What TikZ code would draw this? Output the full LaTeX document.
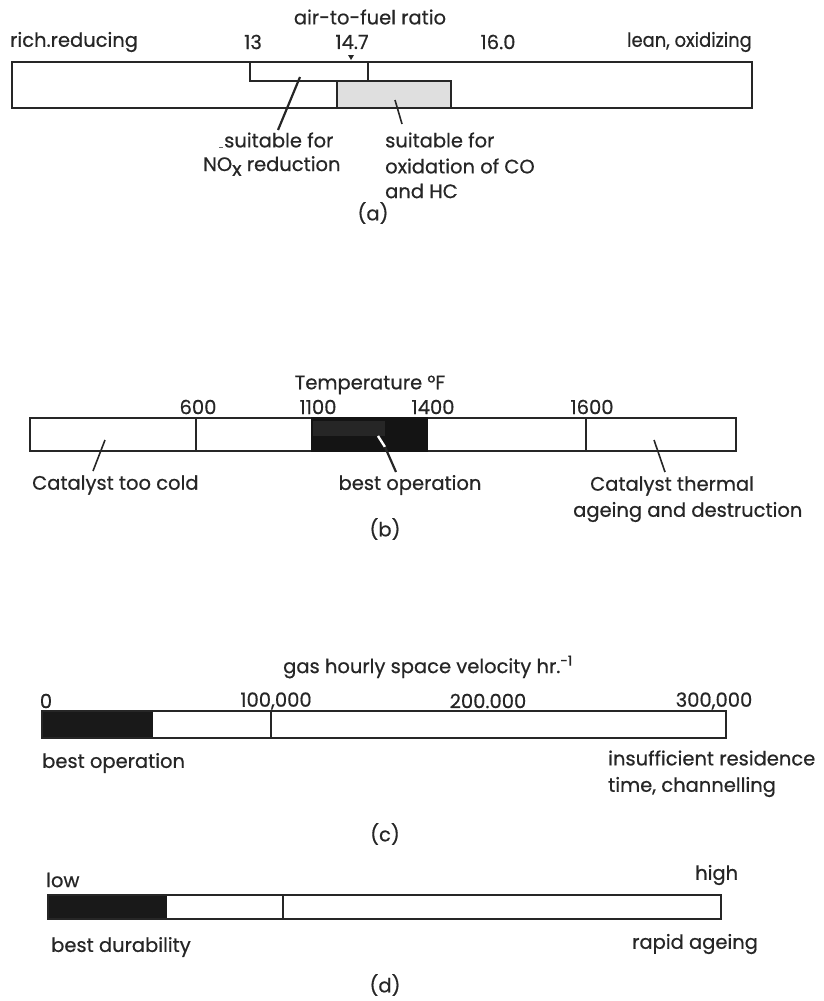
\documentclass[tikz,border=0pt]{standalone}
\usepackage{fontspec}
\setmainfont{Poppins}[FakeBold=0.6]
\begin{document}
\begin{tikzpicture}[x=1pt,y=-1pt,
  bar/.style={draw=black!85,line width=1.6pt},
  tick/.style={draw=black!85,line width=1.4pt},
  leader/.style={draw=black!85,line width=2.2pt},
  lbl/.style={inner sep=0pt,font=\fontsize{19.5}{23}\selectfont,text=black!85},
  lbll/.style={lbl,anchor=west},
  lblr/.style={lbl,anchor=east}]
\useasboundingbox (0,0) rectangle (824,1001);
% ---------- (a) ----------
\node[lbl] (aT) at (370,17) {air-to-fuel ratio};
\node[lbll] (aL) at (10,42) {rich.reducing};
\node[lbl] (a13) at (253,42) {13};
\node[lbl] (a147) at (352,42) {14.7};
\node[lbl] (a160) at (498,42) {16.0};
\node[lblr,xscale=0.92] (aR) at (752,42) {lean, oxidizing};
\draw[bar] (12,62) rectangle (752,108);
\draw[bar,fill=gray!25] (337,81) rectangle (451,108);
\draw[tick] (250,62) -- (250,81) -- (452,81);
\draw[tick] (368,62) -- (368,81);
\fill[black!85] (348,55) -- (354,55) -- (351,60) -- cycle;
\coordinate (a1s) at (300,77);
\coordinate (a2s) at (395,100);
\node[lbll] (aN1) at (224,140) {suitable for};
\node[lbll] (aN2) at (203,166) {NO\raisebox{-0.45ex}{x} reduction};
\draw[line width=1pt,black!60] (219,147) -- (223,147);
\node[lbll] (aO1) at (385,140) {suitable for};
\node[lbll] (aO2) at (385,166) {oxidation of CO};
\node[lbll] (aO3) at (385,191) {and HC};
\coordinate (a1e) at (278,130);
\coordinate (a2e) at (402,124);
\draw[leader] (a1s) -- (a1e);
\draw[leader,line width=1.6pt] (a2s) -- (a2e);
\node[lbl] (aCap) at (373,213) {(a)};
% ---------- (b) ----------
\node[lbl] (bT) at (370,385) {Temperature °F};
\node[lbl] (b600) at (198,407) {600};
\node[lbl] (b1100) at (318,407) {1100};
\node[lbl] (b1400) at (433,407) {1400};
\node[lbl] (b1600) at (592,407) {1600};
\fill[black!92] (311,417) rectangle (428,452);
\fill[black!85] (313,421) rectangle (385,436);
\draw[bar] (311,418) -- (30,418) -- (30,451) -- (311,451);
\draw[bar] (428,418) -- (736,418) -- (736,451) -- (428,451);
\draw[tick] (196,418) -- (196,451);
\draw[tick] (586,418) -- (586,451);
\coordinate (b1s) at (105,440);
\coordinate (b2s) at (378,436);
\coordinate (b2m) at (385,447);
\coordinate (b3s) at (654,440);
\node[lbll] (bC) at (32,485) {Catalyst too cold};
\node[lbl] (bB) at (410,485) {best operation};
\node[lbll] (bH1) at (590,486) {Catalyst thermal};
\node[lbll] (bH2) at (573,512) {ageing and destruction};
\coordinate (b1e) at (93,471);
\coordinate (b2e) at (396,472);
\coordinate (b3e) at (665,472);
\draw[leader,line width=1.6pt] (b1s) -- (b1e);
\draw[line width=2.4pt,white] (b2s) -- (b2m);
\draw[leader] (b2m) -- (b2e);
\draw[leader,line width=1.6pt] (b3s) -- (b3e);
\node[lbl] (bCap) at (385,529) {(b)};
% ---------- (c) ----------
\node[lbll] (cT) at (283,667) {gas hourly space velocity hr.\textsuperscript{-1}};
\node[lbl] (c0) at (46,701) {0};
\node[lbl] (c100) at (276,701) {100,000};
\node[lbl] (c200) at (488,701) {200.000};
\node[lbl] (c300) at (714,701) {300,000};
\fill[black!90] (42,711) rectangle (153,738);
\draw[bar] (42,711) rectangle (726,738);
\draw[tick] (271,711) -- (271,738);
\node[lbll] (cB) at (42,763) {best operation};
\node[lbll] (cI1) at (608,758) {insufficient residence};
\node[lbll] (cI2) at (608,787) {time, channelling};
\node[lbl] (cCap) at (385,834) {(c)};
% ---------- (d) ----------
\node[lbll] (dLo) at (46,880) {low};
\node[lbll] (dHi) at (695,875) {high};
\fill[black!90] (48,895) rectangle (167,919);
\draw[bar] (48,895) rectangle (721,919);
\draw[tick] (283,895) -- (283,919);
\node[lbll] (dB) at (51,947) {best durability};
\node[lbll] (dR) at (632,944) {rapid ageing};
\node[lbl] (dCap) at (385,985) {(d)};
\end{tikzpicture}
\end{document}
